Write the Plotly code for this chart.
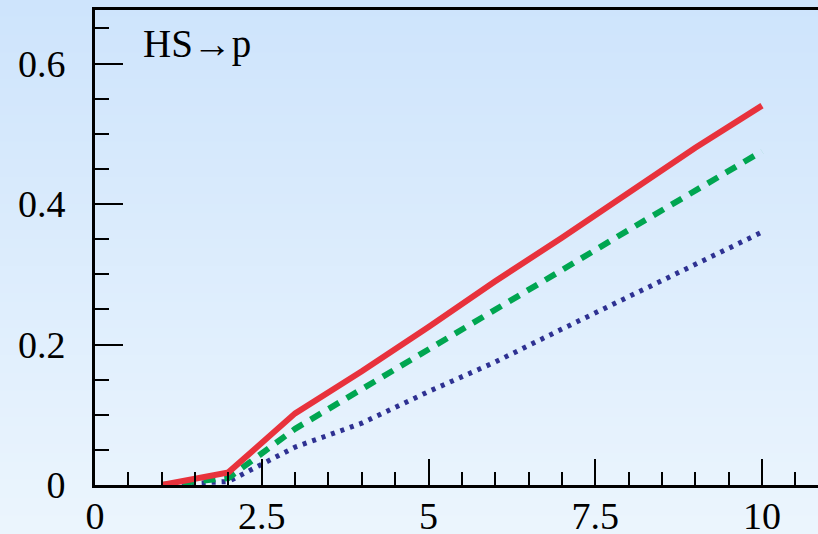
import plotly.graph_objects as go

# ---- data ----
x_vals = [1, 2, 3, 4, 5, 6, 7, 8, 9, 10]
red_solid = [0.0, 0.018, 0.102, 0.162, 0.225, 0.290, 0.352, 0.415, 0.480, 0.540]
green_dashed = [0.0, 0.010, 0.080, 0.136, 0.192, 0.249, 0.306, 0.363, 0.420, 0.475]
blue_dotted = [0.0, 0.005, 0.054, 0.088, 0.133, 0.175, 0.222, 0.268, 0.314, 0.360]

x_tickvals = [0, 2.5, 5, 7.5, 10]
x_ticktext = ["0", "2.5", "5", "7.5", "10"]
y_tickvals = [0, 0.2, 0.4, 0.6]
y_ticktext = ["0", "0.2", "0.4", "0.6"]
label = "HS\u2192p"

W, H = 818, 534
ML, MR, MT, MB = 95, 0, 10, 49
pw, ph = W - ML - MR, H - MT - MB

fig = go.Figure()
fig.add_trace(go.Scatter(x=x_vals, y=blue_dotted, mode="lines",
                         line=dict(color="#2e3192", width=5, dash="4px,6px")))
fig.add_trace(go.Scatter(x=x_vals, y=green_dashed, mode="lines",
                         line=dict(color="#00a651", width=6, dash="12px,9px")))
fig.add_trace(go.Scatter(x=x_vals, y=red_solid, mode="lines",
                         line=dict(color="#e8323c", width=6)))

# vertical gradient background via stripes
shapes = []
n = 60
top = (206, 228, 252)
bot = (235, 245, 253)
y_top = 1 + MT / ph
y_bot = -MB / ph
for i in range(n):
    t = i / (n - 1)
    c = tuple(round(top[k] + (bot[k] - top[k]) * t) for k in range(3))
    y1 = y_top - (y_top - y_bot) * i / n
    y0 = y_top - (y_top - y_bot) * (i + 1) / n
    shapes.append(dict(type="rect", xref="paper", yref="paper",
                       x0=-ML / pw - 0.01, x1=1.01, y0=y0 - 0.002, y1=y1 + 0.002,
                       line=dict(width=0), fillcolor="rgb(%d,%d,%d)" % c,
                       layer="below"))

font = dict(family="Liberation Serif, Times New Roman, serif", size=38, color="#000")

fig.update_layout(
    template="none",
    width=W, height=H,
    margin=dict(l=ML, r=MR, t=MT, b=MB, pad=0, autoexpand=False),
    paper_bgcolor="rgb(235,245,253)",
    plot_bgcolor="rgba(0,0,0,0)",
    showlegend=False,
    shapes=shapes,
    font=font,
    xaxis=dict(range=[0, pw / 66.7], tickvals=x_tickvals, ticktext=x_ticktext,
               automargin=False,
               showgrid=False, zeroline=False, showline=True, linecolor="#000",
               linewidth=3, mirror=True, ticks="inside", ticklen=26, tickwidth=2,
               tickcolor="#000", tickfont=font, ticklabelstandoff=-5,
               minor=dict(dtick=0.5, ticks="inside", ticklen=13, tickwidth=2,
                          tickcolor="#000", showgrid=False)),
    yaxis=dict(range=[0, ph / 702.5], tickvals=y_tickvals, ticktext=y_ticktext,
               automargin=False,
               showgrid=False, zeroline=False, showline=True, linecolor="#000",
               linewidth=3, mirror=False, ticks="inside", ticklen=28, tickwidth=2,
               tickcolor="#000", tickfont=font, ticklabelstandoff=19,
               minor=dict(dtick=0.05, ticks="inside", ticklen=14, tickwidth=2,
                          tickcolor="#000", showgrid=False)),
    annotations=[dict(text=label, xref="paper", yref="paper",
                      x=(141 - ML) / pw, y=1 - (44 - MT) / ph,
                      xanchor="left", yanchor="middle", showarrow=False,
                      font=dict(family="Liberation Serif, Times New Roman, serif",
                                size=39, color="#000"))],
)

post = ("document.body.style.margin='0';document.body.style.padding='0';"
        "document.body.style.overflow='hidden';"
        "document.documentElement.style.overflow='hidden';")
fig.write_html("out.html", post_script=post,
               config={"responsive": False, "displayModeBar": False})
